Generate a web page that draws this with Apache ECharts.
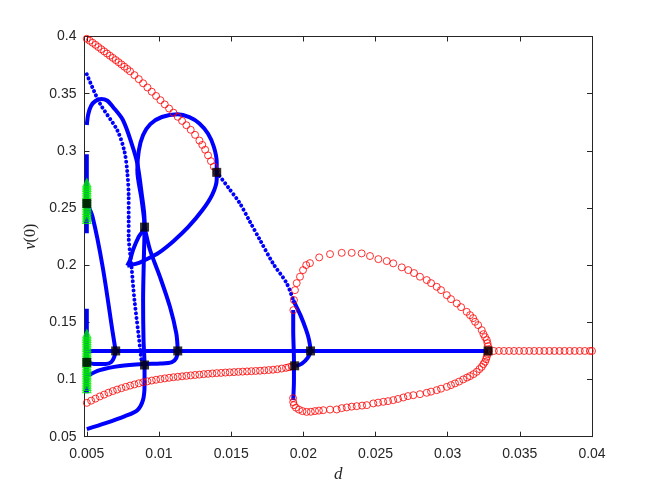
<!DOCTYPE html>
<html><head><meta charset="utf-8">
<script src="https://cdn.jsdelivr.net/npm/echarts@6/dist/echarts.min.js"></script>
<style>html,body{margin:0;padding:0;background:#fff}#c{width:654px;height:491px}</style>
</head><body><div id="c"></div>
<script>
// ---- tick values ----
const xTicks = [0.005,0.01,0.015,0.02,0.025,0.03,0.035,0.04];
const yTicks = [0.05,0.1,0.15,0.2,0.25,0.3,0.35,0.4];

// ---- red circle branches [d, v(0)] ----
const redUpper = [[0.0050,0.398],[0.0052,0.3963],[0.0054,0.3945],[0.0056,0.3927],[0.0058,0.3908],[0.0060,0.3889],[0.0062,0.3870],[0.0064,0.3851],[0.0066,0.3832],[0.0068,0.3813],[0.0070,0.3794],[0.0072,0.3775],[0.0074,0.3756],[0.0076,0.3736],[0.0078,0.3716],[0.0080,0.3695],[0.0083,0.3662],[0.0086,0.3627],[0.0089,0.3591],[0.0092,0.3554],[0.0095,0.3517],[0.0098,0.3480],[0.0101,0.3443],[0.0104,0.3406],[0.0107,0.3370],[0.0110,0.3334],[0.0113,0.3298],[0.0116,0.3262],[0.0119,0.3224],[0.0122,0.3184],[0.0125,0.3140],[0.0128,0.3090],[0.0130,0.3052],[0.0132,0.3010],[0.0134,0.2960],[0.0136,0.2910],[0.0138,0.2862],[0.0140,0.2812]];
const redLower = [[0.0050,0.0796],[0.0053,0.0815],[0.0056,0.0833],[0.0059,0.0852],[0.0062,0.0868],[0.0065,0.0885],[0.0068,0.0899],[0.0071,0.0912],[0.0074,0.0924],[0.0077,0.0936],[0.0080,0.0947],[0.0083,0.0957],[0.0086,0.0967],[0.0089,0.0976],[0.0092,0.0984],[0.0095,0.0991],[0.0098,0.0998],[0.0101,0.1004],[0.0104,0.1010],[0.0107,0.1015],[0.0110,0.1020],[0.0113,0.1024],[0.0116,0.1028],[0.0119,0.1032],[0.0122,0.1036],[0.0125,0.1040],[0.0128,0.1043],[0.0131,0.1047],[0.0134,0.1050],[0.0137,0.1053],[0.0140,0.1056],[0.0143,0.1058],[0.0146,0.1061],[0.0149,0.1063],[0.0152,0.1065],[0.0155,0.1067],[0.0158,0.1069],[0.0161,0.1071],[0.0164,0.1073],[0.0167,0.1075],[0.0170,0.1077],[0.0173,0.1080],[0.0176,0.1083],[0.0179,0.1086],[0.0182,0.1090],[0.0185,0.1096],[0.0188,0.1102],[0.0190,0.1108],[0.0192,0.1115]];
const redLoopTop = [[0.01931,0.1607],[0.01935,0.1695],[0.01942,0.1782],[0.01954,0.1843],[0.01977,0.1899],[0.01998,0.1957],[0.0202,0.2001],[0.02046,0.2018],[0.0211,0.2068],[0.02185,0.2097],[0.02266,0.2108],[0.02335,0.2108],[0.02404,0.2103],[0.02462,0.2080],[0.0252,0.2053],[0.02578,0.2036],[0.02623,0.2016],[0.02682,0.1981],[0.02727,0.1957],[0.02767,0.1931],[0.02808,0.1899],[0.02855,0.1870],[0.02885,0.1843],[0.02924,0.1811],[0.02954,0.1782],[0.02994,0.1738],[0.03023,0.1703],[0.03063,0.1666],[0.03093,0.1633],[0.03132,0.1592],[0.03155,0.1563],[0.03176,0.1537],[0.0319,0.1505],[0.03211,0.1476],[0.03236,0.1432],[0.03248,0.1397],[0.03259,0.1371],[0.03271,0.1345],[0.03276,0.1318],[0.0328,0.1292],[0.03282,0.1266]];
const redLoopBottom = [[0.01929,0.0837],[0.0193,0.0802],[0.01935,0.0776],[0.01949,0.0754],[0.0197,0.0737],[0.01994,0.0724],[0.02023,0.0717],[0.02052,0.0718],[0.02081,0.0724],[0.02108,0.0728],[0.02138,0.0732],[0.02185,0.0737],[0.02231,0.0738],[0.02266,0.0750],[0.02301,0.0756],[0.02335,0.0763],[0.0237,0.0767],[0.02407,0.0772],[0.0244,0.0776],[0.02485,0.0791],[0.02518,0.0798],[0.02554,0.0805],[0.02587,0.0811],[0.02623,0.0820],[0.02656,0.0830],[0.02693,0.0843],[0.02725,0.0855],[0.02762,0.0863],[0.02808,0.0872],[0.02855,0.0884],[0.02885,0.0894],[0.02924,0.0907],[0.02954,0.0920],[0.02994,0.0936],[0.03023,0.0951],[0.03051,0.0966],[0.03079,0.0982],[0.03108,0.1001],[0.03134,0.1017],[0.03155,0.1030],[0.03179,0.1047],[0.03201,0.1067],[0.0322,0.1091],[0.03236,0.1111],[0.03248,0.1135],[0.03259,0.1155],[0.03266,0.1178],[0.03271,0.1199],[0.03276,0.1222],[0.03282,0.1242]];
const redFlat = [[0.03285,0.125],[0.0332,0.125],[0.03355,0.125],[0.0339,0.125],[0.03425,0.125],[0.0346,0.125],[0.03495,0.125],[0.0353,0.125],[0.03565,0.125],[0.036,0.125],[0.03635,0.125],[0.0367,0.125],[0.03705,0.125],[0.0374,0.125],[0.03775,0.125],[0.0381,0.125],[0.03845,0.125],[0.0388,0.125],[0.03915,0.125],[0.0395,0.125],[0.03985,0.125],[0.0400,0.125]];

// ---- blue solid branches ----
const blueHump = [[0.005,0.3226],[0.0051,0.332],[0.0053,0.3395],[0.0056,0.3436],[0.0060,0.3453],[0.0064,0.3440],[0.0068,0.3386],[0.0075,0.3270],[0.0081,0.3066],[0.0085,0.2890],[0.0088,0.2628],[0.0090,0.2395],[0.0090,0.2333],[0.00895,0.2045],[0.0089,0.1695],[0.00893,0.1345],[0.0090,0.1127],[0.0090,0.0950],[0.00889,0.0820],[0.0085,0.0732],[0.00765,0.0680],[0.0063,0.0618],[0.0050,0.0566]];
const blueLoop = [[0.0078,0.1995],[0.0080,0.2045],[0.0082,0.2133],[0.0086,0.2250],[0.0090,0.2333],[0.0088,0.2570],[0.0085,0.2830],[0.0086,0.3000],[0.0089,0.3138],[0.0094,0.3234],[0.0102,0.3296],[0.0113,0.3319],[0.0121,0.3295],[0.0128,0.3240],[0.0134,0.3150],[0.0138,0.3036],[0.0140,0.2900],[0.0140,0.2812],[0.0140,0.2750],[0.0137,0.2620],[0.0130,0.2480],[0.0120,0.2330],[0.0110,0.2210],[0.0100,0.2110],[0.0092,0.2055],[0.0085,0.2015],[0.0078,0.1995]];
const blueS3 = [[0.005,0.2544],[0.0054,0.2421],[0.0061,0.1984],[0.0068,0.1406],[0.0070,0.1249]];
const blueS4 = [[0.005,0.1153],[0.0056,0.1136],[0.0063,0.1136],[0.0067,0.1153],[0.0069,0.1197],[0.0070,0.1249]];
const blueS5 = [[0.005,0.1030],[0.0059,0.1082],[0.0073,0.1118],[0.0090,0.1136],[0.0101,0.1140],[0.0109,0.1153],[0.0112,0.1188],[0.0113,0.1249]];
const blueS6 = [[0.0090,0.2333],[0.00938,0.2133],[0.01007,0.1898],[0.01076,0.1636],[0.0112,0.1403],[0.0113,0.1257]];
const blueFlat = [[0.005,0.125],[0.0328,0.125]];
const blueS8 = [[0.0193,0.1695],[0.0194,0.1668],[0.0198,0.1563],[0.0202,0.1432],[0.0204,0.1345],[0.0205,0.1249],[0.0203,0.1190],[0.0199,0.1140],[0.0195,0.1120]];
const blueS9 = [[0.0193,0.1607],[0.0193,0.1432],[0.01935,0.117],[0.01935,0.0994],[0.0193,0.082]];
const blueCol1 = [[0.005,0.297],[0.005,0.228]];
const blueCol2 = [[0.005,0.162],[0.005,0.088]];
// ---- blue dotted branches ----
const dotD1 = [[0.005,0.367],[0.0059,0.3416],[0.0071,0.3182],[0.0076,0.300],[0.0078,0.282],[0.0079,0.26],[0.0079,0.24],[0.0079,0.225],[0.0080,0.21],[0.0081,0.1983],[0.0083,0.1695],[0.00857,0.1406],[0.0088,0.115]];
const dotD2 = [[0.014,0.2812],[0.0148,0.268],[0.0156,0.2541],[0.0163,0.238],[0.017,0.222],[0.0179,0.2016],[0.01885,0.1841],[0.0193,0.1695]];
// ---- green and black markers ----
const greenV = [0.240,0.242,0.244,0.246,0.248,0.250,0.252,0.254,0.256,0.258,0.260,0.262,0.264,0.266,0.268,0.270,0.272,0.092,0.094,0.096,0.098,0.100,0.102,0.104,0.106,0.108,0.110,0.112,0.114,0.116,0.118,0.120,0.122,0.124,0.126,0.128,0.130,0.132,0.134,0.136,0.138,0.140];
const squares = [[0.005,0.254],[0.005,0.115],[0.007,0.125],[0.009,0.2333],[0.009,0.1127],[0.0113,0.125],[0.014,0.2812],[0.0194,0.112],[0.0205,0.125],[0.0328,0.125]];

const BLUE = '#0000ff', RED = '#ff0000', AX = '#262626';
const chart = echarts.init(document.getElementById('c'), null, {renderer:'canvas'});
function solid(data){ return {type:'line', data, smooth:0.3, symbol:'none', lineStyle:{color:BLUE, width:4}, z:2, silent:true}; }
function dotted(data){ return {type:'line', data, smooth:0.3, symbol:'none', lineStyle:{color:BLUE, width:4, type:[0.01,4.6], cap:'round'}, z:2, silent:true}; }
function circles(data){ return {type:'scatter', data, symbol:'circle', symbolSize:7, itemStyle:{color:'rgba(0,0,0,0)', borderColor:RED, borderWidth:1}, z:3, silent:true}; }
const fmt = v => String(parseFloat(v.toFixed(4)));
const series = [
  solid(blueHump), solid(blueLoop), solid(blueS3), solid(blueS4), solid(blueS5), solid(blueS6),
  solid(blueFlat), solid(blueS8), solid(blueS9), solid(blueCol1), solid(blueCol2),
  dotted(dotD1), dotted(dotD2),
  circles(redUpper), circles(redLower), circles(redLoopTop), circles(redLoopBottom), circles(redFlat),
  {type:'scatter', data: greenV.map(v=>[0.005,v]), symbol:'triangle', symbolSize:8, itemStyle:{color:'rgba(0,0,0,0)', borderColor:'#00ee00', borderWidth:1.2}, z:4, silent:true},
  {type:'scatter', data: squares, symbol:'rect', symbolSize:9, itemStyle:{color:'#000'}, z:5, silent:true}
];
chart.setOption({
  animation:false,
  backgroundColor:'#fff',
  grid:{left:84.5, right:62, top:36.5, bottom:54.3, containLabel:false},
  xAxis:[
    {type:'value', min:0.00484, max:0.04, position:'bottom',
     axisLine:{show:true, lineStyle:{color:AX, width:1}},
     axisTick:{show:true, inside:true, length:5, customValues:xTicks, lineStyle:{color:AX}},
     axisLabel:{show:true, customValues:xTicks, formatter:fmt, color:AX, fontSize:14, fontFamily:'Liberation Sans, Arial, sans-serif', margin:10},
     splitLine:{show:false},
     name:'d', nameLocation:'middle', nameGap:28,
     nameTextStyle:{fontFamily:'Liberation Serif, Times New Roman, serif', fontStyle:'italic', fontSize:17, color:AX}},
    {type:'value', min:0.00484, max:0.04, position:'top',
     axisLine:{show:true, lineStyle:{color:AX, width:1}},
     axisTick:{show:true, inside:true, length:5, customValues:xTicks, lineStyle:{color:AX}},
     axisLabel:{show:false}, splitLine:{show:false}}
  ],
  yAxis:[
    {type:'value', min:0.05, max:0.4, interval:0.05, position:'left',
     axisLine:{show:true, lineStyle:{color:AX, width:1}},
     axisTick:{show:true, inside:true, length:5, lineStyle:{color:AX}},
     axisLabel:{show:true, formatter:fmt, color:AX, fontSize:14, fontFamily:'Liberation Sans, Arial, sans-serif', margin:8},
     splitLine:{show:false},
     name:'{i|v}(0)', nameLocation:'middle', nameGap:31, nameRotate:90,
     nameTextStyle:{fontFamily:'Liberation Serif, Times New Roman, serif', fontSize:16, color:AX,
       rich:{i:{fontFamily:'Liberation Serif, Times New Roman, serif', fontStyle:'italic', fontSize:16, color:AX}}}},
    {type:'value', min:0.05, max:0.4, interval:0.05, position:'right',
     axisLine:{show:true, lineStyle:{color:AX, width:1}},
     axisTick:{show:true, inside:true, length:5, lineStyle:{color:AX}},
     axisLabel:{show:false}, splitLine:{show:false}}
  ],
  series
});
</script></body></html>
